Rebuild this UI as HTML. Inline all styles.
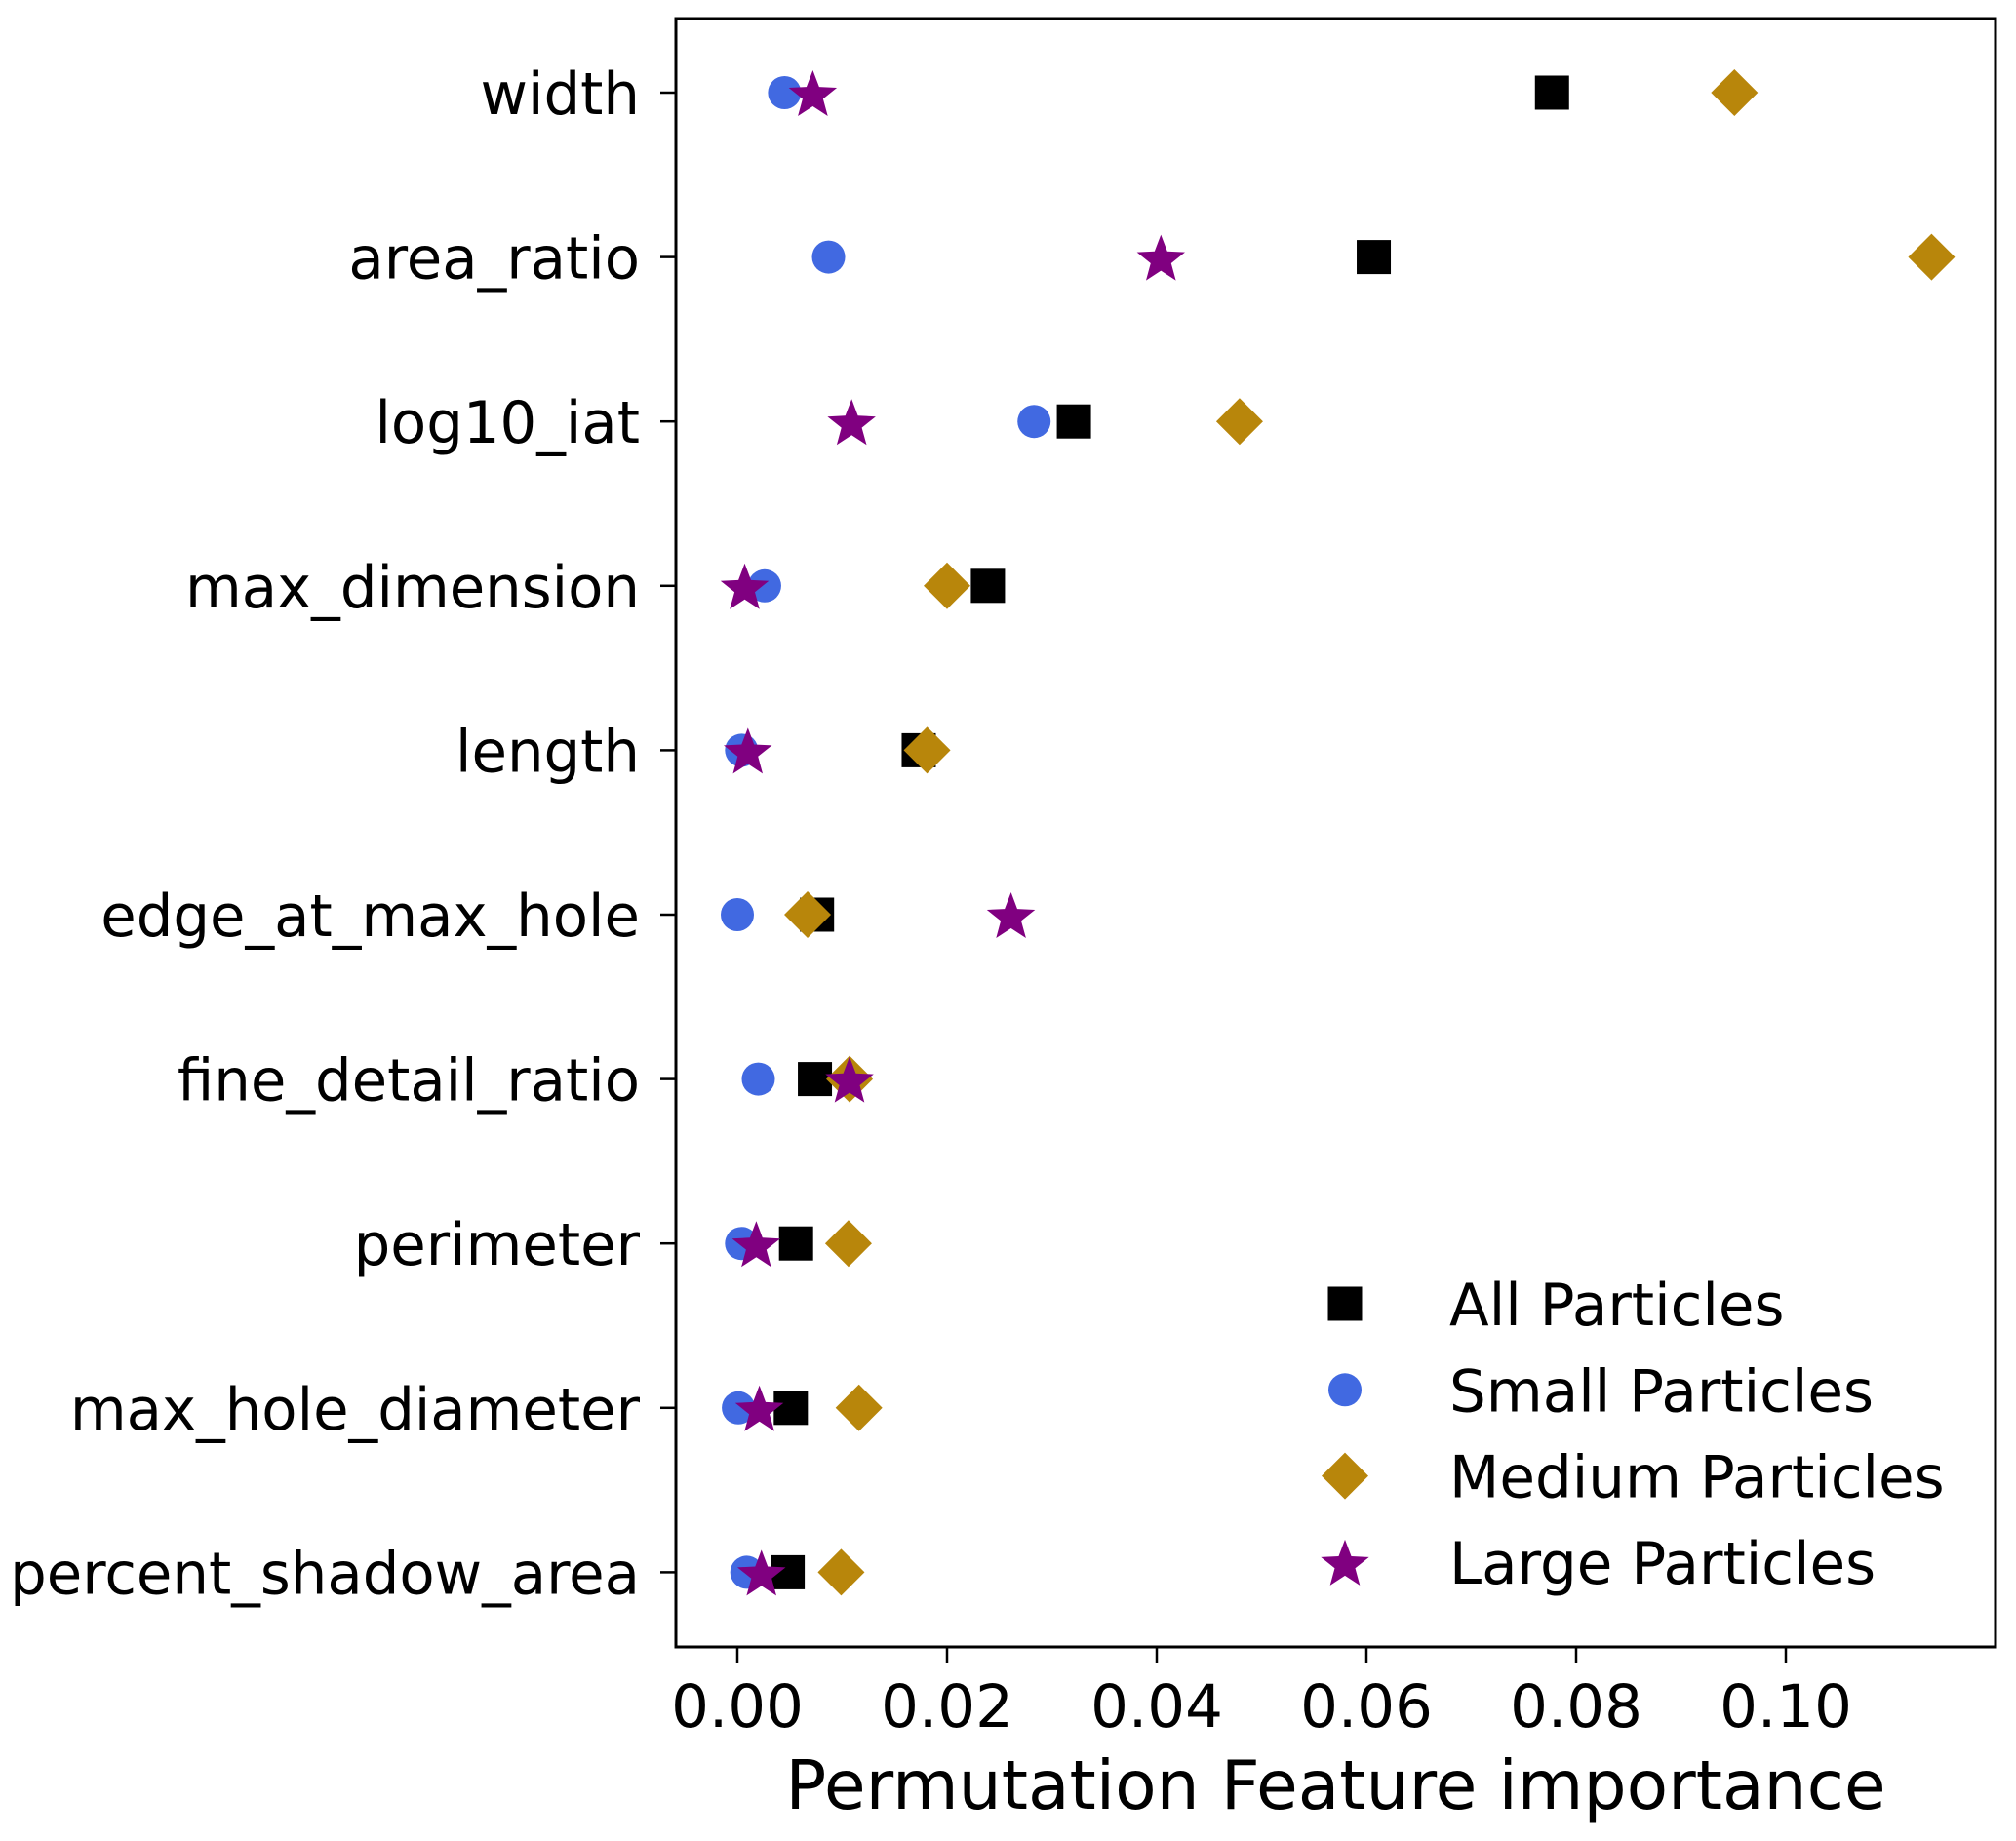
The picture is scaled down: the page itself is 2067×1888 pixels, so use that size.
<!DOCTYPE html>
<html><head><meta charset="utf-8"><style>
html,body{margin:0;padding:0;background:#fff;}
svg{display:block;font-family:"DejaVu Sans","Liberation Sans",sans-serif;}
</style></head><body>
<svg id="chart" width="2067" height="1888" viewBox="0 0 2067 1888"></svg>
<script>
const features = ["width","area_ratio","log10_iat","max_dimension","length","edge_at_max_hole","fine_detail_ratio","perimeter","max_hole_diameter","percent_shadow_area"];
const allVals    = [0.0777,0.0607,0.0321,0.0239,0.0173,0.0076,0.0074,0.0056,0.0051,0.0048];
const smallVals  = [0.0045,0.0087,0.0283,0.0026,0.0004,0.0000,0.0020,0.0004,0.0001,0.0009];
const mediumVals = [0.0951,0.1139,0.0479,0.0200,0.0181,0.0067,0.0107,0.0106,0.0116,0.0099];
const largeVals  = [0.0072,0.0404,0.0109,0.0007,0.0010,0.0261,0.0107,0.0018,0.0021,0.0023];
const xTicks = [0,0.02,0.04,0.06,0.08,0.10];
const xTickLabels = ["0.00","0.02","0.04","0.06","0.08","0.10"];
const seriesNames = ["All Particles","Small Particles","Medium Particles","Large Particles"];

const NS="http://www.w3.org/2000/svg";
const svg=document.getElementById('chart');
const L=693,R=2046,T=19,B=1689;
const xS=v=>756+v*10750;
const yS=i=>95+i*168.6;
function mk(tag,attrs,parent){const e=document.createElementNS(NS,tag);for(const k in attrs)e.setAttribute(k,attrs[k]);(parent||svg).appendChild(e);return e;}

function marker(kind,cx,cy,parent){
  let e;
  if(kind===0){e=mk('rect',{x:cx-17.5,y:cy-17.5,width:35,height:35,fill:'#000'},parent);}
  else if(kind===1){e=mk('circle',{cx:cx,cy:cy,r:17,fill:'#4169e1'},parent);}
  else if(kind===2){e=mk('polygon',{points:`${cx},${cy-24} ${cx+24},${cy} ${cx},${cy+24} ${cx-24},${cy}`,fill:'#b8860b'},parent);}
  else {
    let pts=[];for(let k=0;k<10;k++){const r=k%2?11:26;const a=-Math.PI/2+k*Math.PI/5;pts.push((cx+r*Math.cos(a)).toFixed(1)+','+(cy+3+r*Math.sin(a)).toFixed(1));}
    e=mk('polygon',{points:pts.join(' '),fill:'#800080'},parent);
  }
  return e;
}

const yAxis=mk('g',{});


features.forEach((f,i)=>{
  const y=yS(i);
  const t=mk('line',{x1:677,x2:L,y1:y,y2:y,stroke:'#000','stroke-width':2.5},yAxis);
  
  
  const lb=mk('text',{x:656,y:y+22,'text-anchor':'end','font-size':59.3,fill:'#000'},yAxis);
  lb.textContent=f;
  
  
});
const xAxis=mk('g',{});


xTicks.forEach((v,i)=>{
  const x=xS(v);
  const t=mk('line',{x1:x,x2:x,y1:B,y2:B+16,stroke:'#000','stroke-width':2.5},xAxis);
  
  
  const lb=mk('text',{x:x,y:1771,'text-anchor':'middle','font-size':61,fill:'#000'},xAxis);
  lb.textContent=xTickLabels[i];
  
  
});
const xt=mk('text',{x:(L+R)/2,y:1855,'text-anchor':'middle','font-size':69.5,fill:'#000'});
xt.textContent='Permutation Feature importance';



const allSeries=[allVals,smallVals,mediumVals,largeVals];
const seriesKeys=['all','small','medium','large'];
allSeries.forEach((vals,s)=>{
  const g=mk('g',{});
  
  
  vals.forEach((v,i)=>{
    const m=marker(s,xS(v),yS(i),g);
    
    
  });
});

const fr=mk('rect',{x:L,y:T,width:R-L,height:B-T,fill:'none',stroke:'#000','stroke-width':3});



const lg=mk('g',{});


seriesNames.forEach((n,i)=>{
  const y=1337+i*88.3;
  const e=mk('g',{},lg);
  
  
  marker(i,1379,y,e);
  const t=mk('text',{x:1486,y:y+22,'font-size':59.5,fill:'#000'},e);
  t.textContent=n;
});
</script>
</body></html>
